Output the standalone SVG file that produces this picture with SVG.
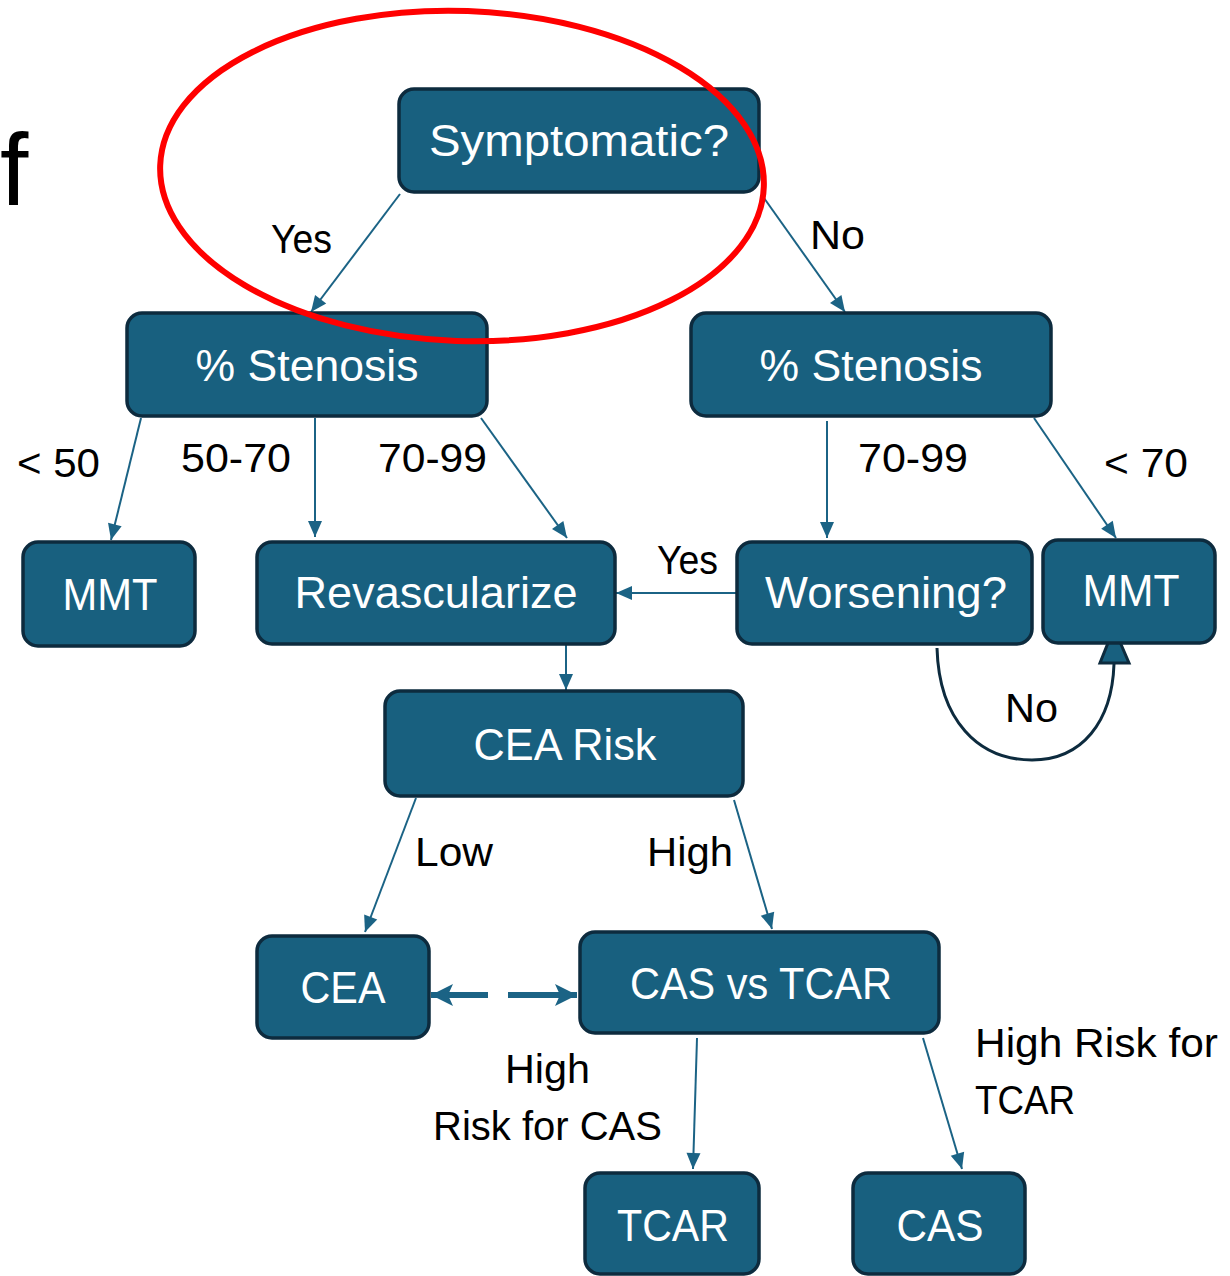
<svg xmlns="http://www.w3.org/2000/svg" width="1230" height="1276" viewBox="0 0 1230 1276">
<style>
.node rect{fill:#18607F;stroke:#0D2B3E;stroke-width:3.5}
.node text{fill:#FFFFFF;font-family:"Liberation Sans",Arial,sans-serif;font-size:44px;text-anchor:middle}
.lbl{fill:#000000;font-family:"Liberation Sans",Arial,sans-serif;font-size:41px}
.conn{stroke:#1B6385;stroke-width:2;fill:none;marker-end:url(#ah)}
</style>
<defs>
<marker id="ah" markerUnits="userSpaceOnUse" markerWidth="20" markerHeight="20" viewBox="0 0 20 20" refX="18" refY="10" orient="auto">
<path d="M2,3 L18,10 L2,17 Z" fill="#1B6385"/>
</marker>
<marker id="ahBig" markerUnits="userSpaceOnUse" markerWidth="28" markerHeight="28" viewBox="0 0 28 28" refX="24" refY="14" orient="auto">
<path d="M2,3 L24,14 L2,25 L7,14 Z" fill="#1B6385"/>
</marker>
</defs>
<rect width="1230" height="1276" fill="#FFFFFF"/>
<text x="0" y="205" style="font-family:'Liberation Sans',Arial,sans-serif;font-size:102px;fill:#000">f</text>

<g id="connectors">
<line class="conn" x1="400" y1="194" x2="311" y2="312"/>
<line class="conn" x1="764" y1="198" x2="845" y2="312"/>
<line class="conn" x1="141" y1="418" x2="111" y2="540"/>
<line class="conn" x1="315" y1="418" x2="315" y2="537"/>
<line class="conn" x1="481" y1="418" x2="567" y2="538"/>
<line class="conn" x1="827" y1="421" x2="827" y2="538"/>
<line class="conn" x1="1034" y1="418" x2="1116" y2="538"/>
<line class="conn" x1="737" y1="593" x2="616" y2="593"/>
<line class="conn" x1="566" y1="645" x2="566" y2="690"/>
<line class="conn" x1="416" y1="798" x2="365" y2="932"/>
<line class="conn" x1="734" y1="800" x2="772" y2="929"/>
<line class="conn" x1="697" y1="1038" x2="693" y2="1169"/>
<line class="conn" x1="923" y1="1038" x2="962" y2="1169"/>
<line x1="488" y1="995" x2="431" y2="995" stroke="#1B6385" stroke-width="6" marker-end="url(#ahBig)"/>
<line x1="508" y1="995" x2="577" y2="995" stroke="#1B6385" stroke-width="6" marker-end="url(#ahBig)"/>
<path d="M937,648 C939,720 978,760 1032,760 C1082,760 1112,722 1114,664" fill="none" stroke="#0D2B3E" stroke-width="3"/>
<path d="M1114,628 L1129,663 L1100,663 Z" fill="#18607F" stroke="#0D2B3E" stroke-width="3" stroke-linejoin="miter"/>
</g>

<g id="n-symptomatic" class="node"><rect x="399" y="89" width="360" height="103" rx="15"/><text x="579" y="156" textLength="300" lengthAdjust="spacingAndGlyphs">Symptomatic?</text></g>
<g id="n-stenosis-left" class="node"><rect x="127" y="313" width="360" height="103" rx="15"/><text x="307" y="381" textLength="223" lengthAdjust="spacingAndGlyphs">% Stenosis</text></g>
<g id="n-stenosis-right" class="node"><rect x="691" y="313" width="360" height="103" rx="15"/><text x="871" y="381" textLength="223" lengthAdjust="spacingAndGlyphs">% Stenosis</text></g>
<g id="n-mmt-left" class="node"><rect x="23" y="542" width="172" height="104" rx="15"/><text x="110" y="610" textLength="95" lengthAdjust="spacingAndGlyphs">MMT</text></g>
<g id="n-revascularize" class="node"><rect x="257" y="542" width="358" height="102" rx="15"/><text x="436" y="608" textLength="283" lengthAdjust="spacingAndGlyphs">Revascularize</text></g>
<g id="n-worsening" class="node"><rect x="737" y="542" width="295" height="102" rx="15"/><text x="886" y="608" textLength="242" lengthAdjust="spacingAndGlyphs">Worsening?</text></g>
<g id="n-mmt-right" class="node"><rect x="1043" y="540" width="172" height="103" rx="15"/><text x="1131" y="606" textLength="97" lengthAdjust="spacingAndGlyphs">MMT</text></g>
<g id="n-cea-risk" class="node"><rect x="385" y="691" width="358" height="105" rx="15"/><text x="565" y="760" textLength="183" lengthAdjust="spacingAndGlyphs">CEA Risk</text></g>
<g id="n-cea" class="node"><rect x="257" y="936" width="172" height="102" rx="15"/><text x="343" y="1003" textLength="85" lengthAdjust="spacingAndGlyphs">CEA</text></g>
<g id="n-cas-vs-tcar" class="node"><rect x="580" y="932" width="359" height="101" rx="15"/><text x="761" y="999" textLength="262" lengthAdjust="spacingAndGlyphs">CAS vs TCAR</text></g>
<g id="n-tcar" class="node"><rect x="585" y="1173" width="174" height="101" rx="15"/><text x="673" y="1241" textLength="112" lengthAdjust="spacingAndGlyphs">TCAR</text></g>
<g id="n-cas" class="node"><rect x="853" y="1173" width="172" height="101" rx="15"/><text x="940" y="1241" textLength="87" lengthAdjust="spacingAndGlyphs">CAS</text></g>

<g id="labels">
<text class="lbl" x="271" y="253" textLength="61" lengthAdjust="spacingAndGlyphs">Yes</text>
<text class="lbl" x="810" y="249" textLength="55" lengthAdjust="spacingAndGlyphs">No</text>
<text class="lbl" x="17" y="477" textLength="83" lengthAdjust="spacingAndGlyphs">&lt; 50</text>
<text class="lbl" x="181" y="472" textLength="110" lengthAdjust="spacingAndGlyphs">50-70</text>
<text class="lbl" x="378" y="472" textLength="109" lengthAdjust="spacingAndGlyphs">70-99</text>
<text class="lbl" x="858" y="472" textLength="110" lengthAdjust="spacingAndGlyphs">70-99</text>
<text class="lbl" x="1104" y="477" textLength="84" lengthAdjust="spacingAndGlyphs">&lt; 70</text>
<text class="lbl" x="657" y="574" textLength="61" lengthAdjust="spacingAndGlyphs">Yes</text>
<text class="lbl" x="1005" y="722" textLength="53" lengthAdjust="spacingAndGlyphs">No</text>
<text class="lbl" x="415" y="866" textLength="78" lengthAdjust="spacingAndGlyphs">Low</text>
<text class="lbl" x="647" y="866" textLength="86" lengthAdjust="spacingAndGlyphs">High</text>
<text class="lbl" x="505" y="1083" textLength="85" lengthAdjust="spacingAndGlyphs">High</text>
<text class="lbl" x="433" y="1140" textLength="229" lengthAdjust="spacingAndGlyphs">Risk for CAS</text>
<text class="lbl" x="975" y="1057" textLength="243" lengthAdjust="spacingAndGlyphs">High Risk for</text>
<text class="lbl" x="975" y="1114" textLength="100" lengthAdjust="spacingAndGlyphs">TCAR</text>
</g>

<ellipse id="highlight" cx="462" cy="176" rx="302" ry="165" transform="rotate(2 462 176)" fill="none" stroke="#FF0000" stroke-width="6"/>
</svg>
